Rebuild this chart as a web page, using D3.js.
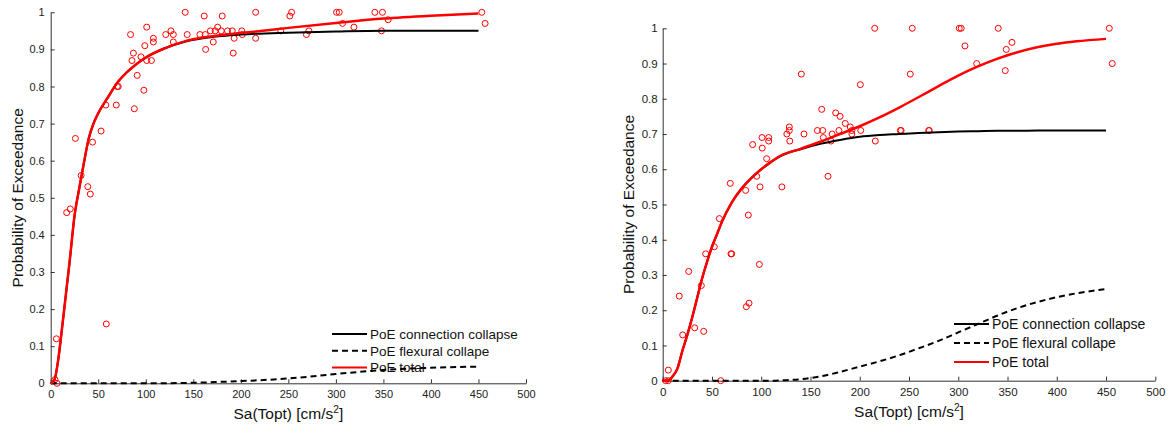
<!DOCTYPE html>
<html>
<head>
<meta charset="utf-8">
<script src="https://cdn.jsdelivr.net/npm/d3@7"></script>
<style>
  body { margin: 0; background: #fff; }
  svg { display: block; font-family: "Liberation Sans", Arial, Helvetica, sans-serif; }
</style>
</head>
<body>
<svg id="chart" width="1173" height="430"></svg>
<script>
// axis ticks
const xTicks = [0, 50, 100, 150, 200, 250, 300, 350, 400, 450, 500];
const yTicks = [0, 0.1, 0.2, 0.3, 0.4, 0.5, 0.6, 0.7, 0.8, 0.9, 1];
const legendLabels = ["PoE connection collapse", "PoE flexural collape", "PoE total"];

// left panel - observed points
const leftObsX = [4.5, 6.6, 6, 16.8, 20.6, 26, 32, 39, 41.7, 44, 53, 58, 58.5, 69, 70, 71, 84, 85.5, 87, 88, 91, 95, 98, 99, 101, 101, 106, 108, 108,
  121, 126.5, 129, 129, 141.5, 143.6, 157, 161.5, 162.6, 163, 168, 171, 173, 175.6, 179.4, 180.4, 186, 191, 192, 193, 201, 201.5,
  215.6, 215.6, 242, 251.6, 253.4, 269, 271.6, 300.7, 303.5, 307, 319, 341, 349, 348, 355, 453.5, 457];
const leftObsY = [0.01, 0, 0.12, 0.46, 0.47, 0.66, 0.56, 0.53, 0.51, 0.65, 0.68, 0.75, 0.16, 0.75, 0.80, 0.80, 0.94, 0.87, 0.89, 0.74, 0.83, 0.88, 0.79, 0.91, 0.96, 0.87, 0.87, 0.93, 0.92,
  0.94, 0.95, 0.94, 0.92, 1.0, 0.94, 0.94, 0.99, 0.94, 0.90, 0.95, 0.92, 0.95, 0.96, 0.95, 0.99, 0.95, 0.95, 0.89, 0.93, 0.95, 0.94,
  1.0, 0.93, 0.95, 0.99, 1.0, 0.94, 0.95, 1.0, 1.0, 0.97, 0.96, 1.0, 1.0, 0.95, 0.98, 1.0, 0.97];

// left panel - fitted curves
const leftGrid = [0, 4, 8, 12, 16, 20, 25, 30, 35, 40, 45, 50, 60, 70, 80, 90, 100, 120, 140, 160, 180, 200, 250, 300, 350, 400, 450];
const leftConn = [0, 0.01, 0.065, 0.15, 0.24, 0.33, 0.45, 0.525, 0.595, 0.66, 0.70, 0.728, 0.77, 0.81, 0.838, 0.86, 0.878, 0.903, 0.92, 0.93, 0.936, 0.94, 0.945, 0.948, 0.95, 0.95, 0.95];
const leftFlex = [0, 0, 0, 0, 0, 0, 0, 0, 0, 0, 0, 0, 0, 0, 0, 0, 0, 0, 0.001, 0.002, 0.004, 0.006, 0.013, 0.025, 0.036, 0.042, 0.045];
const leftTotal = [0, 0.01, 0.065, 0.15, 0.24, 0.33, 0.45, 0.525, 0.595, 0.66, 0.70, 0.728, 0.77, 0.81, 0.838, 0.86, 0.878, 0.903, 0.921, 0.932, 0.939, 0.944, 0.958, 0.971, 0.983, 0.991, 0.997];

// right panel - observed points
const rightObsX = [3, 5.7, 5.7, 16.8, 20.3, 26.4, 32.5, 39.2, 41.6, 43.6, 52.4, 57.5, 58.9, 68.6, 69.3, 70, 84.2, 84.9, 86.9, 87.6, 91.3, 95.4, 98.1, 98.8,
  100.8, 101, 105.5, 107.6, 107.6, 121, 126, 128.5, 128.5, 129, 140.7, 143.4, 157, 161.4, 162.4, 163, 167.8, 170.8, 172, 175.6, 178.9, 180,
  185.3, 190.4, 192, 192, 200.6, 201, 215.2, 215.8, 241.2, 242, 251.3, 253.3, 270, 270.6, 301, 303, 306.8, 318.7, 340.6, 347.7, 348.7, 354.5, 453.3, 456.3];
const rightObsY = [0, 0, 0.03, 0.24, 0.13, 0.31, 0.15, 0.27, 0.14, 0.36, 0.38, 0.46, 0, 0.56, 0.36, 0.36, 0.54, 0.21, 0.47, 0.22, 0.67, 0.58, 0.33, 0.55,
  0.69, 0.66, 0.63, 0.69, 0.68, 0.55, 0.70, 0.72, 0.71, 0.68, 0.87, 0.70, 0.71, 0.77, 0.71, 0.69, 0.58, 0.68, 0.70, 0.76, 0.71, 0.75,
  0.73, 0.72, 0.70, 0.71, 0.84, 0.71, 1.0, 0.68, 0.71, 0.71, 0.87, 1.0, 0.71, 0.71, 1.0, 1.0, 0.95, 0.90, 1.0, 0.88, 0.94, 0.96, 1.0, 0.90];

// right panel - fitted curves
const rightGrid = [0, 5, 10, 15, 20, 25, 30, 35, 40, 45, 50, 55, 60, 70, 80, 90, 100, 110, 120, 140, 160, 180, 200, 220, 240, 260, 280, 300, 320, 340, 360, 380, 400, 420, 450];
const rightConn = [0, 0, 0.012, 0.035, 0.085, 0.13, 0.18, 0.235, 0.29, 0.337, 0.38, 0.415, 0.45, 0.505, 0.545, 0.575, 0.60, 0.621, 0.638, 0.657,
  0.672, 0.683, 0.692, 0.697, 0.700, 0.703, 0.705, 0.707, 0.708, 0.709, 0.709, 0.71, 0.71, 0.71, 0.71];
const rightFlex = [0, 0, 0, 0, 0, 0, 0, 0, 0, 0, 0, 0, 0, 0, 0, 0, 0, 0, 0.001, 0.004,
  0.012, 0.025, 0.04, 0.055, 0.072, 0.092, 0.113, 0.137, 0.161, 0.185, 0.206, 0.223, 0.237, 0.248, 0.26];
const rightTotal = [0, 0, 0.012, 0.035, 0.085, 0.13, 0.18, 0.235, 0.29, 0.337, 0.38, 0.415, 0.45, 0.505, 0.545, 0.575, 0.60, 0.621, 0.639, 0.658,
  0.678, 0.70, 0.722, 0.747, 0.775, 0.805, 0.836, 0.866, 0.892, 0.914, 0.932, 0.946, 0.956, 0.963, 0.970];

const svg = d3.select('#chart');

function drawPanel(p)
{
    let xScale = d3.scaleLinear().domain([0, 500]).range([p.x0, p.x1]);
    let yScale = d3.scaleLinear().domain([0, 1]).range([p.y0, p.y1]);
    let g = svg.append('g');

    //axes, ticks pointing inward like matlab
    let xAxis = d3.axisBottom(xScale).tickValues(xTicks).tickSizeInner(-4).tickSizeOuter(0).tickPadding(7);
    let yAxis = d3.axisLeft(yScale).tickValues(yTicks).tickSizeInner(-4).tickSizeOuter(0).tickPadding(p.yPad).tickFormat(d3.format('~g'));

    let gx = g.append('g').attr('transform', `translate(0, ${p.y0})`).call(xAxis);
    let gy = g.append('g').attr('transform', `translate(${p.x0}, 0)`).call(yAxis);
    [gx, gy].forEach(function(a)
    {
        a.select('.domain').attr('stroke', '#333').attr('stroke-width', 1);
        a.selectAll('.tick line').attr('stroke', '#333');
        a.selectAll('.tick text').attr('fill', '#222').style('font-size', p.tickFont + 'px').style('font-family', 'inherit');
    });

    let line = d3.line()
        .x(function(d) { return xScale(d[0]); })
        .y(function(d) { return yScale(d[1]); })
        .curve(d3.curveMonotoneX);

    //legend (no box, curves may cross it)
    let lg = g.append('g');
    let styles = [
        { stroke: '#000', dash: null },
        { stroke: '#000', dash: '6,4' },
        { stroke: '#ff0000', dash: null }
    ];
    legendLabels.forEach(function(label, i)
    {
        let yy = p.legY + i * p.legStep;
        lg.append('line')
            .attr('x1', p.legX).attr('x2', p.legX + 35)
            .attr('y1', yy).attr('y2', yy)
            .attr('stroke', styles[i].stroke).attr('stroke-width', 2)
            .attr('stroke-dasharray', styles[i].dash);
        lg.append('text')
            .attr('x', p.legX + 38).attr('y', yy)
            .attr('dy', '0.35em')
            .style('font-size', p.legFont + 'px')
            .attr('fill', '#111')
            .text(label);
    });

    //observed points
    g.append('g').selectAll('circle')
        .data(p.obsX.map(function(x, i) { return [x, p.obsY[i]]; }))
        .enter()
        .append('circle')
            .attr('cx', function(d) { return xScale(d[0]); })
            .attr('cy', function(d) { return yScale(d[1]); })
            .attr('r', 3)
            .attr('fill', 'none')
            .attr('stroke', '#ff0000')
            .attr('stroke-width', 1);

    //fitted curves
    let zip = function(ys) { return p.grid.map(function(x, i) { return [x, ys[i]]; }); };
    g.append('path').attr('d', line(zip(p.flex)))
        .attr('fill', 'none').attr('stroke', '#000').attr('stroke-width', 2).attr('stroke-dasharray', '6,4');
    g.append('path').attr('d', line(zip(p.conn)))
        .attr('fill', 'none').attr('stroke', '#000').attr('stroke-width', 2);
    g.append('path').attr('d', line(zip(p.total)))
        .attr('fill', 'none').attr('stroke', '#ff0000').attr('stroke-width', 2.5);

    //axis titles
    let xt = g.append('text')
        .attr('x', (p.x0 + p.x1) / 2).attr('y', p.y0 + 36)
        .attr('text-anchor', 'middle')
        .style('font-size', p.labFont + 'px')
        .attr('fill', '#111');
    xt.append('tspan').text('Sa(Topt) [cm/s');
    xt.append('tspan').attr('dy', -6).style('font-size', (p.labFont * 0.65) + 'px').text('2');
    xt.append('tspan').attr('dy', 6).text(']');

    g.append('text')
        .attr('transform', `translate(${p.yLabX}, ${(p.y0 + p.y1) / 2}) rotate(-90)`)
        .attr('text-anchor', 'middle')
        .style('font-size', p.labFont + 'px')
        .attr('fill', '#111')
        .text('Probability of Exceedance');
}

drawPanel({
    x0: 50.7, x1: 526, y0: 383.3, y1: 12.3,
    grid: leftGrid, conn: leftConn, flex: leftFlex, total: leftTotal,
    obsX: leftObsX, obsY: leftObsY,
    legX: 332, legY: 334, legStep: 16.8, legFont: 13.5,
    tickFont: 11, yPad: 6, labFont: 15.5, yLabX: 23
});

drawPanel({
    x0: 662.7, x1: 1155.3, y0: 380.7, y1: 28.3,
    grid: rightGrid, conn: rightConn, flex: rightFlex, total: rightTotal,
    obsX: rightObsX, obsY: rightObsY,
    legX: 954, legY: 324, legStep: 19, legFont: 14,
    tickFont: 11.5, yPad: 5, labFont: 15.5, yLabX: 634
});
</script>
</body>
</html>
